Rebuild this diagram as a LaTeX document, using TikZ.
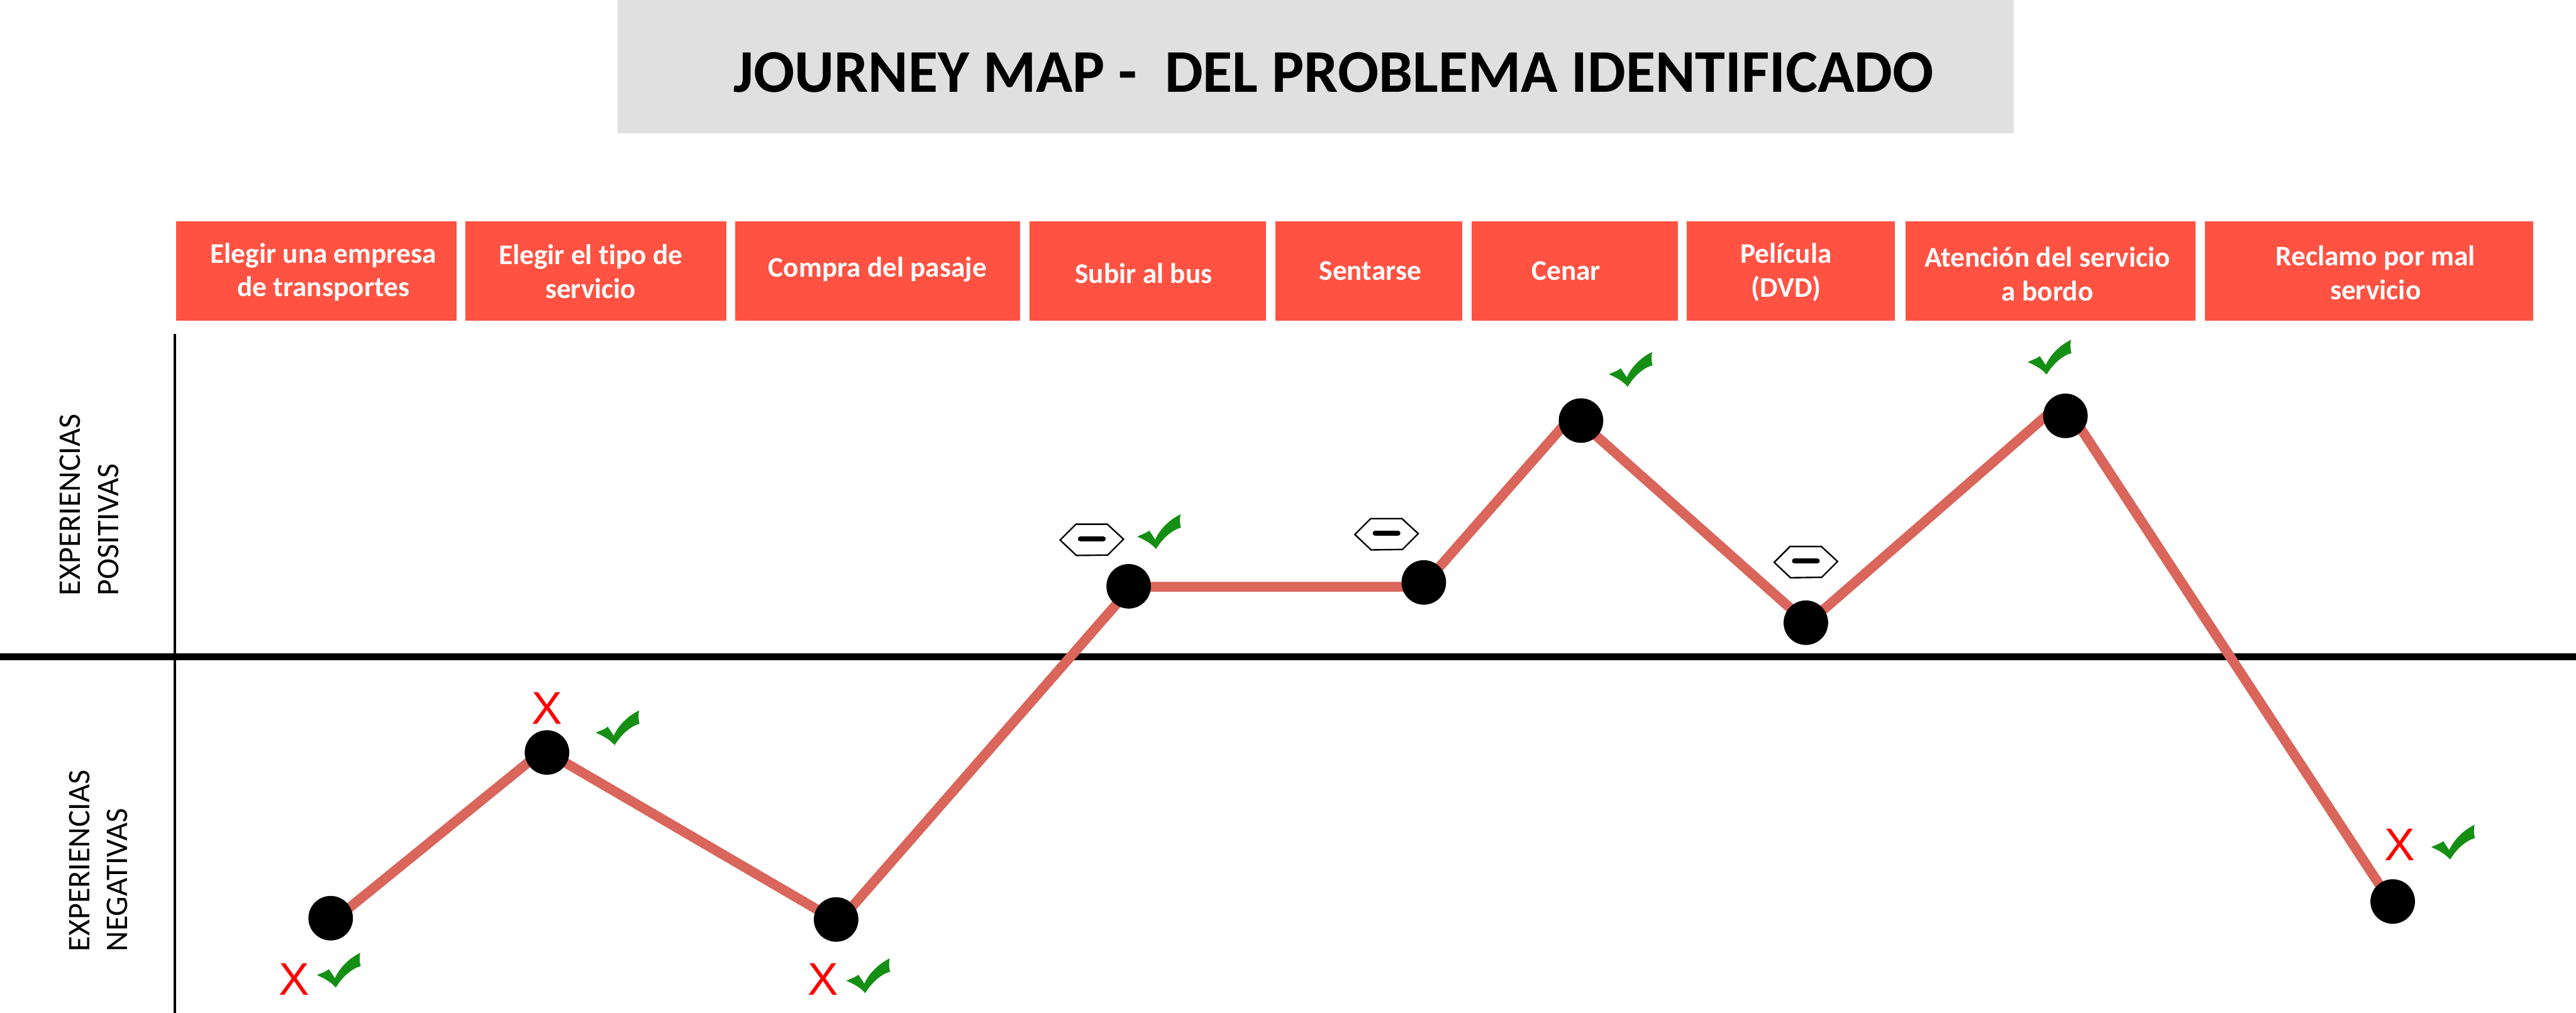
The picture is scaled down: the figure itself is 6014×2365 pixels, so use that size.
\documentclass[tikz,border=0pt]{standalone}
\usepackage{fontspec}
\usetikzlibrary{backgrounds}
\setmainfont{Carlito}[RawFeature={-liga}]
\newfontfamily\xfont{Liberation Sans}
\definecolor{boxred}{HTML}{FF5242}
\definecolor{titlegray}{HTML}{E0E0E0}
\definecolor{journeyred}{HTML}{DA655B}
\definecolor{checkgreen}{HTML}{148F14}
\tikzset{
  x=1pt,y=-1pt,
  stagebox/.style={fill=boxred,draw=none,inner sep=0pt,anchor=north west},
  stagetext/.style={text=white,font=\fontsize{66.5}{79}\selectfont\bfseries,align=center,inner sep=0pt,anchor=base},
  sidetext/.style={font=\fontsize{73.5}{73.5}\selectfont,rotate=90,inner sep=0pt,anchor=base west},
  journeyline/.style={draw=journeyred,line width=23pt,line cap=butt,line join=round},
  dotnode/.style={circle,fill=black,draw=none,inner sep=0pt,minimum size=104pt},
  xmark/.style={text=red,font=\xfont\fontsize{107}{107}\selectfont,inner sep=0pt,anchor=base},
  chk/.pic={
    \fill[checkgreen] (0,0) .. controls (-12,-14) and (-28,-22) .. (-44,-29)
      .. controls (-32,-35) and (-23,-37) .. (-16,-43)
      -- (-2,-22) .. controls (8,-45) and (30,-68) .. (57,-81)
      .. controls (55,-70) and (55,-62) .. (58,-50)
      .. controls (38,-45) and (15,-25) .. (0,0) -- cycle;
  },
  neutro/.pic={
    \draw[line width=3.5pt,line join=miter,fill=white] (-74,1) -- (-37,-36) -- (36,-36) -- (74,-1) -- (37,36) -- (-36,37) -- cycle;
    \draw[line width=12pt,line cap=round] (-26.5,-2) -- (26.5,-2);
  }
}
\begin{document}
\begin{tikzpicture}
\useasboundingbox (0,0) rectangle (6014,2365);
% title
\node[fill=titlegray,inner sep=0pt,anchor=north west,minimum width=3259pt,minimum height=311pt] (titlebox) at (1442,0) {};
\node[font=\fontsize{141.6}{142}\selectfont\bfseries,inner sep=0pt,anchor=base west] (title) at (1712,215) {JOURNEY MAP -\ \ DEL PROBLEMA IDENTIFICADO};
% stage boxes
\node[stagebox,minimum width=655pt,minimum height=232pt] (b1) at (411,516) {};
\node[stagebox,minimum width=608pt,minimum height=232pt] (b2) at (1087,516) {};
\node[stagebox,minimum width=666pt,minimum height=232pt] (b3) at (1716,516) {};
\node[stagebox,minimum width=553pt,minimum height=232pt] (b4) at (2403,516) {};
\node[stagebox,minimum width=436pt,minimum height=232pt] (b5) at (2977,516) {};
\node[stagebox,minimum width=481pt,minimum height=232pt] (b6) at (3436,516) {};
\node[stagebox,minimum width=486pt,minimum height=232pt] (b7) at (3938,516) {};
\node[stagebox,minimum width=677pt,minimum height=232pt] (b8) at (4449,516) {};
\node[stagebox,minimum width=767pt,minimum height=232pt] (b9) at (5147,516) {};
\node[stagetext] (t1) at (755,693) {Elegir una empresa\\de transportes};
\node[stagetext] (t2) at (1379,697) {Elegir el tipo de\\servicio};
\node[stagetext] (t3) at (2049,647) {Compra del pasaje};
\node[stagetext] (t4) at (2670,661) {Subir al bus};
\node[stagetext] (t5) at (3199,654) {Sentarse};
\node[stagetext] (t6) at (3656,654) {Cenar};
\node[stagetext] (t7) at (4170,694) {Película\\(DVD)};
\node[stagetext] (t8) at (4780,703) {Atención del servicio\\a bordo};
\node[stagetext] (t9) at (5546,700) {Reclamo por mal\\servicio};
% axes
\coordinate (vtop) at (408,780);
\coordinate (vbot) at (408,2365);
\coordinate (hleft) at (0,1533.5);
\coordinate (hright) at (6014,1533.5);
\draw[line width=6pt] (vtop) -- (vbot);
% side labels
\node[sidetext] (s1) at (187,1391) {EXPERIENCIAS};
\node[sidetext] (s2) at (277,1391) {POSITIVAS};
\node[sidetext] (s3) at (208.6,2222) {EXPERIENCIAS};
\node[sidetext] (s4) at (298,2222) {NEGATIVAS};
% dots
\node[dotnode] (d1) at (772,2144) {};
\node[dotnode] (d2) at (1277,1757) {};
\node[dotnode] (d3) at (1952,2147) {};
\node[dotnode] (d4) at (2635,1369) {};
\node[dotnode] (d5) at (3324,1360) {};
\node[dotnode] (d6) at (3691,982) {};
\node[dotnode] (d7) at (4216,1454) {};
\node[dotnode] (d8) at (4822,971) {};
\node[dotnode] (d9) at (5586,2105) {};
% base line and journey line, under the dots
\begin{scope}[on background layer]
\draw[line width=17pt] (hleft) -- (hright);
\draw[journeyline] ([shift={(0,11)}]d1.center) -- ([shift={(-8,-6)}]d2.center)
  -- ([shift={(6,6)}]d3.center) -- ([shift={(7,1)}]d4.center)
  -- ([shift={(-4,10)}]d5.center) -- ([shift={(-19,-13)}]d6.center)
  -- ([shift={(4,2)}]d7.center) -- ([shift={(-6,-34)}]d8.center)
  -- ([shift={(0,8)}]d9.center);
\end{scope}
% x marks
\node[xmark] (x1) at (686.5,2323) {X};
\node[xmark] (x2) at (1277,1690) {X};
\node[xmark] (x3) at (1921,2323) {X};
\node[xmark] (x4) at (5603,2010) {X};
% checks
\pic (c1) at (784,2306) {chk};
\pic (c2) at (1435,1740) {chk};
\pic (c3) at (2020,2319) {chk};
\pic (c4) at (2699,1282) {chk};
\pic (c5) at (3800,903) {chk};
\pic (c6) at (4778,874.5) {chk};
\pic (c7) at (5720,2007) {chk};
% hexagons
\pic (h1) at (2549,1260) {neutro};
\pic (h2) at (3237,1247) {neutro};
\pic (h3) at (4216,1312) {neutro};
\end{tikzpicture}
\end{document}
